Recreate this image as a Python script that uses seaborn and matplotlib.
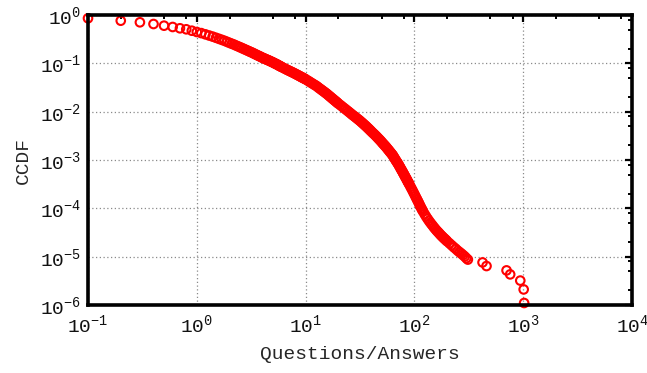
import matplotlib
matplotlib.use("Agg")
import matplotlib.pyplot as plt
from matplotlib.ticker import LogLocator, LogFormatterMathtext, NullFormatter
import seaborn as sns
import pandas as pd

# Questions/answers ratio and its complementary CDF
ratio = [
    0.1, 0.2, 0.3, 0.4, 0.5, 0.6, 0.7, 0.8, 0.9, 1.0,
    1.1, 1.2, 1.3, 1.4, 1.5, 1.6, 1.7, 1.8, 1.9, 2.0,
    2.1, 2.2, 2.3, 2.4, 2.5, 2.6, 2.7, 2.8, 2.9, 3.0,
    3.1, 3.2, 3.3, 3.4, 3.5, 3.6, 3.7, 3.8, 3.9, 4.0,
    4.1, 4.2, 4.3, 4.4, 4.5, 4.6, 4.7, 4.8, 4.9, 5.0,
    5.1, 5.2, 5.3, 5.4, 5.5, 5.6, 5.7, 5.8, 5.9, 6.0,
    6.2, 6.4, 6.6, 6.8, 7.0, 7.2, 7.4, 7.6, 7.8, 8.0,
    8.2, 8.4, 8.6, 8.8, 9.0, 9.2, 9.4, 9.6, 9.8, 10.0,
    10.4, 10.8, 11.2, 11.6, 12.0, 12.4, 12.8, 13.2, 13.6, 14.0,
    14.4, 14.8, 15.2, 15.6, 16.0, 16.4, 16.8, 17.2, 17.6, 18.0,
    18.4, 18.8, 19.2, 19.6, 20.0,
    20.8, 21.6, 22.4, 23.2, 24.0, 24.8, 25.6, 26.4, 27.2, 28.0,
    28.8, 29.6, 30.4, 31.2, 32.0, 32.8, 33.6, 34.4, 35.2, 36.0,
    36.8, 37.6, 38.4, 39.2, 40.0,
    41, 42, 43, 44, 45, 46, 47, 48, 49, 50,
    51, 52, 53, 54, 55, 56, 57, 58, 59, 60,
    61, 62, 63, 64, 65, 66, 67, 68, 69, 70,
    71, 72, 73, 74, 75, 76, 77, 78, 79, 80,
    81, 82, 83, 84, 85, 86, 87, 88, 89, 90,
    92, 94, 96, 98, 100, 102, 104, 106, 108, 110,
    112, 114, 116, 118, 120,
    124, 128, 132, 136, 140, 144, 148, 152, 156, 160,
    164, 168, 172, 176, 180, 184, 188, 192, 196, 200,
    210, 220, 230, 240, 250, 260, 270, 280, 290, 300, 310,
    423, 460, 703, 759, 940, 1010, 1020,
]

ccdf = [
    0.855, 0.762, 0.706, 0.651, 0.601, 0.565, 0.531, 0.506, 0.473, 0.445,
    0.422, 0.398, 0.376, 0.357, 0.338, 0.321, 0.306, 0.292, 0.278, 0.265,
    0.254, 0.244, 0.233, 0.224, 0.215, 0.207, 0.199, 0.192, 0.185, 0.179,
    0.173, 0.168, 0.162, 0.157, 0.152, 0.147, 0.143, 0.139, 0.135, 0.131,
    0.128, 0.125, 0.122, 0.119, 0.117, 0.114, 0.112, 0.109, 0.107, 0.105,
    0.102, 0.100, 0.098, 0.096, 0.094, 0.0917, 0.0897, 0.0879, 0.0861, 0.0843,
    0.0813, 0.0782, 0.0755, 0.0731, 0.0708, 0.0687, 0.0667, 0.0647, 0.0630, 0.0611,
    0.0593, 0.0577, 0.0561, 0.0546, 0.0531, 0.0516, 0.0504, 0.0492, 0.0480, 0.0468,
    0.0443, 0.0421, 0.0399, 0.0380, 0.0362, 0.0347, 0.0330, 0.0312, 0.0297, 0.0283,
    0.0270, 0.0258, 0.0246, 0.0236, 0.0225, 0.0214, 0.0205, 0.0196, 0.0187, 0.0180,
    0.0172, 0.0166, 0.0159, 0.0153, 0.0147,
    0.01374, 0.01285, 0.01202, 0.01130, 0.01062, 0.01002, 0.00946, 0.00891, 0.00845, 0.00804,
    0.00766, 0.00728, 0.00693, 0.00662, 0.00631, 0.00600, 0.00573, 0.00545, 0.00520, 0.00498,
    0.00473, 0.00452, 0.00432, 0.00412, 0.00394,
    0.00372, 0.00354, 0.00337, 0.00320, 0.00304, 0.00288, 0.00274, 0.00261, 0.00248, 0.00236,
    0.00223, 0.00213, 0.00203, 0.00194, 0.00185, 0.00176, 0.00167, 0.00160, 0.00152, 0.00145,
    0.00139, 0.00132, 0.00127, 0.00120, 0.00113, 0.00107, 0.00101, 0.000957, 0.000912, 0.000867,
    0.000824, 0.000780, 0.000738, 0.000698, 0.000661, 0.000625, 0.000597, 0.000565, 0.000535, 0.000509,
    0.000485, 0.000458, 0.000437, 0.000416, 0.000396, 0.000378, 0.000356, 0.000343, 0.000327, 0.000310,
    0.000281, 0.000257, 0.000235, 0.000214, 0.000196, 0.000179, 0.000164, 0.000151, 0.000139, 0.000128,
    0.000117, 0.000108, 0.000100, 9.30e-5, 8.65e-5,
    7.62e-5, 6.78e-5, 6.10e-5, 5.53e-5, 5.06e-5, 4.66e-5, 4.31e-5, 3.98e-5, 3.72e-5, 3.47e-5,
    3.27e-5, 3.09e-5, 2.91e-5, 2.75e-5, 2.62e-5, 2.49e-5, 2.38e-5, 2.28e-5, 2.18e-5, 2.08e-5,
    1.89e-5, 1.72e-5, 1.57e-5, 1.45e-5, 1.33e-5, 1.24e-5, 1.16e-5, 1.08e-5, 1.01e-5, 9.31e-6, 8.7e-6,
    7.6e-6, 6.4e-6, 5.2e-6, 4.3e-6, 3.2e-6, 2.1e-6, 1.1e-6,
]

x_label = "Questions/Answers"
y_label = "CCDF"

df = pd.DataFrame({"ratio": ratio, "ccdf": ccdf})

sns.set_style("white")
plt.rcParams["font.family"] = ["Liberation Mono", "DejaVu Sans"]
plt.rcParams["mathtext.fontset"] = "custom"
plt.rcParams["mathtext.rm"] = "Liberation Mono"
plt.rcParams["mathtext.it"] = "Liberation Mono"
plt.rcParams["mathtext.bf"] = "Liberation Mono:bold"

fig = plt.figure(figsize=(6.47, 3.73), dpi=100)
ax = fig.add_axes([88 / 647, 1 - 305 / 373, (632 - 88) / 647, (305 - 15) / 373])

sns.scatterplot(
    data=df, x="ratio", y="ccdf", ax=ax,
    marker="o", s=38, facecolors="none", edgecolor="#ff0000",
    linewidth=1.5, zorder=3, clip_on=False, legend=False,
)

ax.set_xscale("log")
ax.set_yscale("log")
ax.set_xlim(0.1, 1e4)
ax.set_ylim(1e-6, 1)

for axis in (ax.xaxis, ax.yaxis):
    axis.set_major_locator(LogLocator(base=10, numticks=20))
    axis.set_major_formatter(LogFormatterMathtext())
    axis.set_minor_locator(LogLocator(base=10, subs=(2, 5, 8), numticks=20))
    axis.set_minor_formatter(NullFormatter())

ax.tick_params(which="both", direction="in", top=True, right=True,
               color="black", labelsize=14, labelcolor="#111111")
ax.tick_params(which="major", length=5, width=1.6, pad=6)
ax.tick_params(which="minor", length=3, width=1.4)
ax.tick_params(axis="y", which="major", pad=5)

ax.grid(True, which="major", linestyle=(0, (1, 2)), color="#8a8a8a", linewidth=0.9)
ax.grid(False, which="minor")

for sp in ax.spines.values():
    sp.set_linewidth(2.6)
    sp.set_color("black")
    sp.set_zorder(4)

ax.set_xlabel(x_label, fontsize=14, labelpad=7)
ax.set_ylabel(y_label, fontsize=14, labelpad=6)

fig.savefig("out.png", dpi=100)
